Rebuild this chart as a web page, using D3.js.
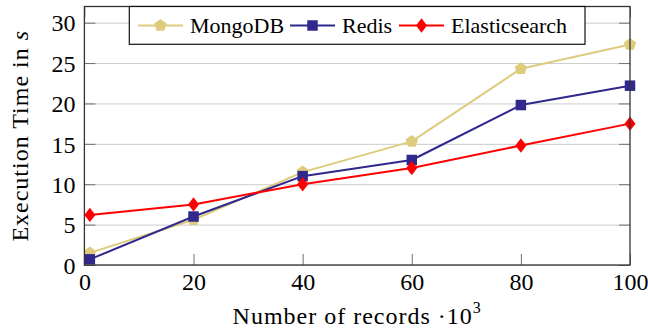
<!DOCTYPE html>
<html>
<head>
<meta charset="utf-8">
<script src="https://cdn.jsdelivr.net/npm/d3@7"></script>
<style>
  html, body { margin: 0; padding: 0; background: #fff; }
  svg { display: block; }
  svg text { font-family: "Liberation Serif", "Times New Roman", Times, serif !important; fill: #000; }
</style>
</head>
<body>
<svg id="chart" width="648" height="331"></svg>
<script>
// ---- data ----
const records = [1, 20, 40, 60, 80, 100];          // x: number of records ·10^3
const mongoDB = [1.5, 5.6, 11.5, 15.3, 24.3, 27.3];
const redis = [0.7, 6.0, 11.0, 13.0, 19.8, 22.2];
const elasticsearch = [6.2, 7.5, 10.0, 12.0, 14.8, 17.5];
const xTicks = [0, 20, 40, 60, 80, 100];
const yTicks = [0, 5, 10, 15, 20, 25, 30];
const seriesNames = ["MongoDB", "Redis", "Elasticsearch"];

// ---- layout ----
const FONT = '"Liberation Serif", "Times New Roman", Times, serif';
const m = { left: 84.4, right: 630, top: 6.5, bottom: 265 };
const svg = d3.select("#chart");

const x = d3.scaleLinear().domain([0, 100]).range([m.left, m.right]);
const y = d3.scaleLinear().domain([0, 32]).range([m.bottom, m.top]);

// custom marker shapes
const pentagon = {
  draw(ctx, size) {
    const r = Math.sqrt(size / 2.378);
    for (let i = 0; i < 5; i++) {
      const a = -Math.PI / 2 + i * 2 * Math.PI / 5;
      const px = r * Math.cos(a), py = r * Math.sin(a);
      if (i === 0) ctx.moveTo(px, py); else ctx.lineTo(px, py);
    }
    ctx.closePath();
  }
};
const diamond = {
  draw(ctx, size) {
    const w = Math.sqrt(size / 2.55), h = w * 1.3;
    ctx.moveTo(0, -h); ctx.lineTo(w, 0); ctx.lineTo(0, h); ctx.lineTo(-w, 0); ctx.closePath();
  }
};

const series = [
  { name: seriesNames[0], values: mongoDB, color: "#ddcc7e", symbol: pentagon, size: 100 },
  { name: seriesNames[1], values: redis, color: "#30288c", symbol: d3.symbolSquare, size: 110 },
  { name: seriesNames[2], values: elasticsearch, color: "#ff0000", symbol: diamond, size: 78 }
];

// ---- grid ----
svg.append("g")
  .attr("transform", `translate(${m.left},0)`)
  .call(d3.axisLeft(y).tickValues(yTicks).tickSize(-(m.right - m.left)).tickFormat(""))
  .call(g => g.select(".domain").remove())
  .call(g => g.selectAll("line").attr("stroke", "#cccccc").attr("stroke-width", 1));

// ---- ticks (inward) ----
const tickColor = "#707070", tickLen = 11;
svg.append("g").attr("transform", `translate(0,${m.bottom})`)
  .call(d3.axisBottom(x).tickValues(xTicks).tickSize(-tickLen).tickFormat(""))
  .call(g => g.select(".domain").remove())
  .call(g => g.selectAll("line").attr("stroke", tickColor));
svg.append("g").attr("transform", `translate(0,${m.top})`)
  .call(d3.axisTop(x).tickValues(xTicks).tickSize(-tickLen).tickFormat(""))
  .call(g => g.select(".domain").remove())
  .call(g => g.selectAll("line").attr("stroke", tickColor));
svg.append("g").attr("transform", `translate(${m.left},0)`)
  .call(d3.axisLeft(y).tickValues(yTicks).tickSize(-tickLen).tickFormat(""))
  .call(g => g.select(".domain").remove())
  .call(g => g.selectAll("line").attr("stroke", tickColor));
svg.append("g").attr("transform", `translate(${m.right},0)`)
  .call(d3.axisRight(y).tickValues(yTicks).tickSize(-tickLen).tickFormat(""))
  .call(g => g.select(".domain").remove())
  .call(g => g.selectAll("line").attr("stroke", tickColor));

// ---- tick labels ----
svg.append("g").attr("transform", `translate(0,${m.bottom})`)
  .call(d3.axisBottom(x).tickValues(xTicks).tickSize(0).tickPadding(0).tickFormat(d3.format("d")))
  .attr("font-family", FONT).attr("font-size", 24)
  .call(g => g.select(".domain").remove())
  .call(g => g.selectAll("text")
    .style("font-family", FONT).style("font-size", "24px")
    .attr("y", 25).attr("dy", 0).attr("fill", "#000"));
svg.append("g").attr("transform", `translate(${m.left},0)`)
  .call(d3.axisLeft(y).tickValues(yTicks).tickSize(0).tickPadding(9).tickFormat(d3.format("d")))
  .attr("font-family", FONT).attr("font-size", 24)
  .call(g => g.select(".domain").remove())
  .call(g => g.selectAll("text")
    .style("font-family", FONT).style("font-size", "24px")
    .attr("dy", "0.34em").attr("fill", "#000"));

// ---- series ----
const line = d3.line().x((d, i) => x(records[i])).y(d => y(d));
series.forEach(s => {
  svg.append("path").datum(s.values)
    .attr("d", line).attr("fill", "none")
    .attr("stroke", s.color).attr("stroke-width", 2).attr("stroke-linejoin", "round");
  svg.append("g").selectAll("path").data(s.values).join("path")
    .attr("transform", (d, i) => `translate(${x(records[i])},${y(d)})`)
    .attr("d", d3.symbol().type(s.symbol).size(s.size))
    .attr("fill", s.color);
});

// ---- axis box ----
svg.append("rect")
  .attr("x", m.left).attr("y", m.top)
  .attr("width", m.right - m.left).attr("height", m.bottom - m.top)
  .attr("fill", "none").attr("stroke", "#333").attr("stroke-width", 1.3);

// ---- axis labels ----
const xl = svg.append("text")
  .attr("x", (m.left + m.right) / 2).attr("y", 324)
  .attr("text-anchor", "middle")
  .style("font-family", FONT).style("font-size", "24px").attr("letter-spacing", 1);
xl.append("tspan").text("Number of records ·10");
xl.append("tspan").style("font-size", "16px").attr("dy", -11).text("3");

const yl = svg.append("text")
  .attr("transform", `translate(28,${(m.top + m.bottom) / 2}) rotate(-90)`)
  .attr("text-anchor", "middle")
  .style("font-family", FONT).style("font-size", "24px").attr("letter-spacing", 1);
yl.append("tspan").text("Execution Time in ");
yl.append("tspan").attr("font-style", "italic").text("s");

// ---- legend ----
const lg = svg.append("g");
lg.append("rect").attr("x", 129.3).attr("y", m.top).attr("width", 585 - 129.3).attr("height", 44.3 - m.top)
  .attr("fill", "#fff").attr("stroke", "#111").attr("stroke-width", 1.2);
const legendX = [138, 290, 399];
const legendY = 25.5;
series.forEach((s, i) => {
  const g = lg.append("g").attr("transform", `translate(${legendX[i]},${legendY})`);
  g.append("line").attr("x1", 0).attr("x2", 45).attr("y1", 0).attr("y2", 0)
    .attr("stroke", s.color).attr("stroke-width", 2);
  g.append("path").attr("transform", "translate(22.5,0)")
    .attr("d", d3.symbol().type(s.symbol).size(s.size)).attr("fill", s.color);
  g.append("text").attr("x", 52).attr("y", 7.5)
    .style("font-family", FONT).style("font-size", "22px").text(s.name);
});
</script>
</body>
</html>
